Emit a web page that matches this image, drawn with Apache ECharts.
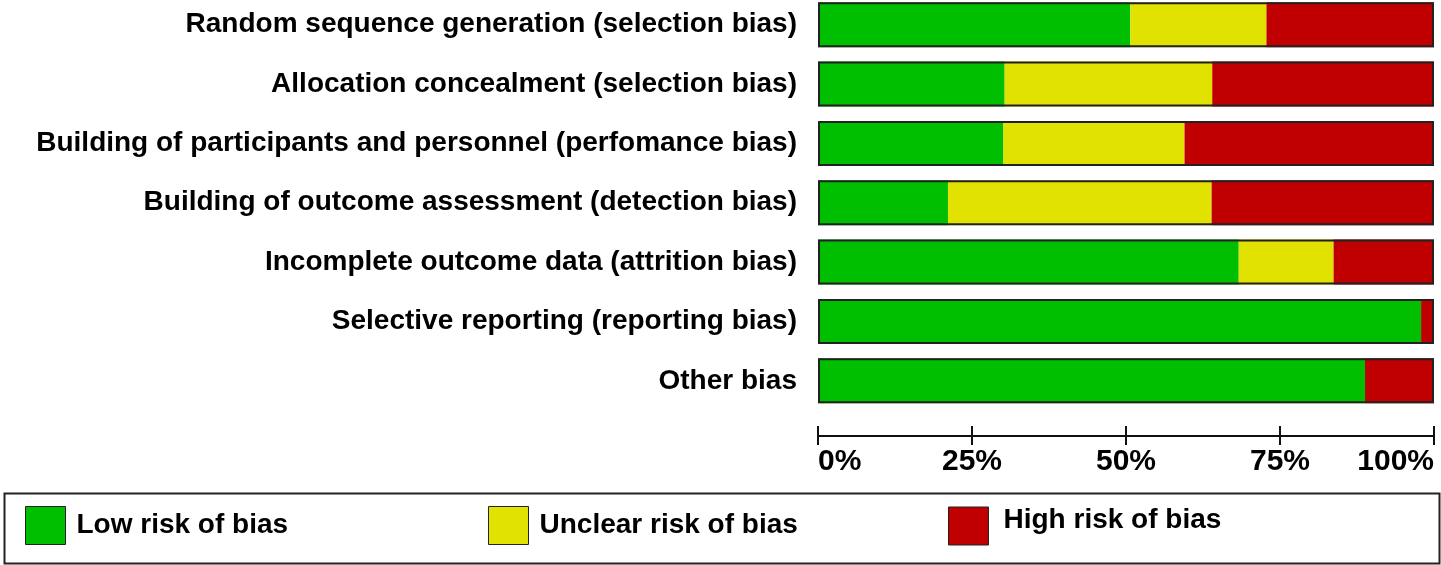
<!DOCTYPE html>
<html>
<head>
<meta charset="utf-8">
<script src="https://cdn.jsdelivr.net/npm/echarts@6/dist/echarts.min.js"></script>
<style>
html,body{margin:0;padding:0;background:#fff;}
#chart{width:1441px;height:565px;}
</style>
</head>
<body>
<div id="chart"></div>
<script>
var categories = [
  'Random sequence generation (selection bias)',
  'Allocation concealment (selection bias)',
  'Building of participants and personnel (perfomance bias)',
  'Building of outcome assessment (detection bias)',
  'Incomplete outcome data (attrition bias)',
  'Selective reporting (reporting bias)',
  'Other bias'
];
var lowRisk     = [50.7, 30.3, 30.1, 21.1, 68.3, 97.9, 88.8];
var unclearRisk = [22.1, 33.7, 29.4, 42.8, 15.4, 0, 0];
var highRisk    = [27.2, 36.0, 40.5, 36.1, 16.3, 2.1, 11.2];
var seriesNames = ['Low risk of bias', 'Unclear risk of bias', 'High risk of bias'];
var axisMin = 0, axisMax = 100, axisStep = 25;
var totals = categories.map(function(){ return 100; });

var GREEN = '#00bf00', YELLOW = '#e2e200', RED = '#c00000';
var FONT = '"Liberation Sans", Arial, sans-serif';

var chart = echarts.init(document.getElementById('chart'));
function legendItem(name, color, left, padBottom, padLeft) {
  return {
    left: left, top: 506, padding: 0, orient: 'horizontal',
    selectedMode: false,
    itemWidth: 40, itemHeight: 38,
    icon: 'rect',
    data: [{ name: name, itemStyle: { color: color, borderColor: '#222', borderWidth: 1 } }],
    formatter: '{t|{name}}',
    textStyle: {
      fontFamily: FONT, fontWeight: 'bold', fontSize: 28, color: '#000', padding: [0, 0, 0, padLeft],
      rich: { t: { fontFamily: FONT, fontWeight: 'bold', fontSize: 28, color: '#000', padding: [0, 0, padBottom, 0] } }
    }
  };
}
chart.setOption({
  animation: false,
  backgroundColor: '#fff',
  grid: [
    { left: 818, width: 616, top: -5, height: 415.5, containLabel: false, outerBoundsMode: 'none' },
    { left: 818, width: 616, top: 426, height: 10, containLabel: false, outerBoundsMode: 'none' }
  ],
  xAxis: [
    { gridIndex: 0, type: 'value', min: axisMin, max: axisMax, show: false },
    { gridIndex: 1, type: 'value', min: axisMin, max: axisMax, interval: axisStep, position: 'bottom',
      axisLine: { show: true, lineStyle: { color: '#111', width: 2 } },
      axisTick: { show: true, length: 9, lineStyle: { color: '#111', width: 2 } },
      splitLine: { show: true, lineStyle: { color: '#111', width: 2 } },
      axisLabel: { formatter: '{value}%', fontFamily: FONT, fontWeight: 'bold', fontSize: 30, color: '#000', margin: 11,
        alignMinLabel: 'left', alignMaxLabel: 'right' }
    }
  ],
  yAxis: [
    { gridIndex: 0, type: 'category', data: categories, inverse: true,
      axisLine: { show: false }, axisTick: { show: false },
      axisLabel: { fontFamily: FONT, fontWeight: 'bold', fontSize: 28, color: '#000', margin: 21 } },
    { gridIndex: 1, type: 'value', show: false }
  ],
  legend: [
    legendItem(seriesNames[0], GREEN, 25, 0, 6),
    legendItem(seriesNames[1], YELLOW, 488, 0, 6),
    legendItem(seriesNames[2], RED, 948, 12, 10)
  ],
  graphic: [{
    type: 'rect', left: 2, top: 491,
    shape: { width: 1435, height: 70 },
    style: { fill: 'none', stroke: '#222', lineWidth: 2 }
  }],
  series: [
    { name: seriesNames[0], type: 'bar', stack: 'risk', data: lowRisk, barWidth: 45, itemStyle: { color: GREEN } },
    { name: seriesNames[1], type: 'bar', stack: 'risk', data: unclearRisk, barWidth: 45, itemStyle: { color: YELLOW } },
    { name: seriesNames[2], type: 'bar', stack: 'risk', data: highRisk, barWidth: 45, itemStyle: { color: RED } },
    { name: 'outline', type: 'bar', data: totals, barWidth: 45, barGap: '-100%', z: 5, silent: true,
      itemStyle: { color: 'rgba(0,0,0,0)', borderColor: '#222', borderWidth: 2 } }
  ]
});
</script>
</body>
</html>
